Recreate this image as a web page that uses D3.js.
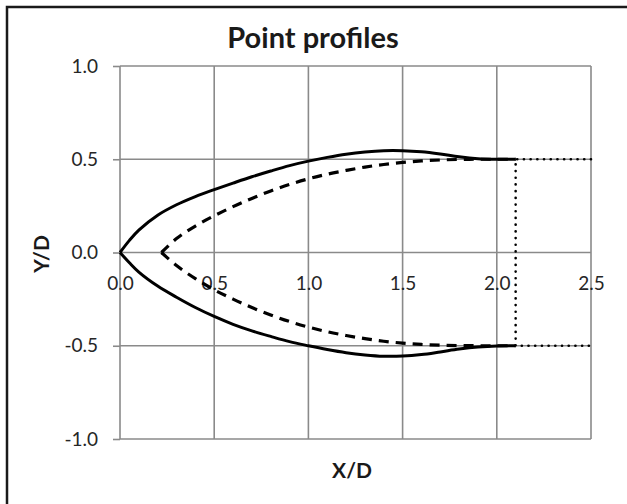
<!DOCTYPE html>
<html>
<head>
<meta charset="utf-8">
<script src="https://cdn.jsdelivr.net/npm/d3@7"></script>
<style>
  html, body { margin: 0; padding: 0; background: #fff; }
  svg { display: block; font-family: Lato, "Liberation Sans", sans-serif; }
</style>
</head>
<body>
<div id="chart"></div>
<script>
// profile data
const solidX      = [0, 0.05, 0.1, 0.2, 0.3, 0.4, 0.5, 0.6, 0.7, 0.8, 0.9, 1.0, 1.1, 1.2, 1.3, 1.4, 1.5, 1.6, 1.7, 1.8, 1.9, 2.0, 2.1];
const solidUpper  = [0, 0.065, 0.12, 0.2, 0.256, 0.3, 0.337, 0.372, 0.406, 0.437, 0.466, 0.49, 0.51, 0.527, 0.539, 0.546, 0.546, 0.54, 0.528, 0.513, 0.503, 0.5, 0.5];
const solidLower  = [0, -0.055, -0.105, -0.18, -0.24, -0.295, -0.343, -0.385, -0.42, -0.45, -0.478, -0.5, -0.52, -0.537, -0.549, -0.556, -0.555, -0.547, -0.533, -0.518, -0.507, -0.501, -0.5];
const dashX       = [0.22, 0.3, 0.4, 0.5, 0.6, 0.7, 0.8, 0.9, 1.0, 1.1, 1.2, 1.3, 1.4, 1.5, 1.6, 1.7, 1.8, 1.9, 2.0, 2.1];
const dashUpper   = [0, 0.075, 0.142, 0.197, 0.246, 0.29, 0.33, 0.365, 0.395, 0.42, 0.44, 0.458, 0.472, 0.483, 0.491, 0.496, 0.499, 0.5, 0.5, 0.5];
const dashLower   = [0, -0.07, -0.14, -0.2, -0.25, -0.295, -0.335, -0.37, -0.4, -0.425, -0.445, -0.462, -0.476, -0.486, -0.493, -0.497, -0.499, -0.5, -0.5, -0.5];
const dotX        = [2.5, 2.1, 2.1, 2.5];
const dotY        = [0.5, 0.5, -0.5, -0.5];
const xTicks = [0, 0.5, 1.0, 1.5, 2.0, 2.5];
const yTicks = [-1.0, -0.5, 0, 0.5, 1.0];

const width = 627, height = 504;
const margin = { left: 120, right: 36, top: 66, bottom: 65 };

const svg = d3.select('#chart').append('svg')
  .attr('width', width)
  .attr('height', height);

// outer chart frame (only left and top edges show)
svg.append('rect')
  .attr('x', 7).attr('y', 7)
  .attr('width', width + 20).attr('height', height + 20)
  .attr('fill', '#fff')
  .attr('stroke', '#1a1a1a')
  .attr('stroke-width', 2.5);

const x = d3.scaleLinear().domain([0, 2.5]).range([margin.left, width - margin.right]);
const y = d3.scaleLinear().domain([-1, 1]).range([height - margin.bottom, margin.top]);
const fmt = d => d.toFixed(1);   // plain hyphen for negatives, like the original

// gridlines
const grid = svg.append('g').attr('stroke', '#8a8a8a').attr('stroke-width', 1.6);
grid.selectAll('line.v').data(xTicks).enter().append('line')
  .attr('x1', d => x(d)).attr('x2', d => x(d))
  .attr('y1', y(1)).attr('y2', y(-1));
grid.selectAll('line.h').data(yTicks).enter().append('line')
  .attr('x1', x(0)).attr('x2', x(2.5))
  .attr('y1', d => y(d)).attr('y2', d => y(d));

// y axis ticks + labels
const yAxis = svg.append('g')
  .attr('transform', `translate(${x(0)},0)`)
  .call(d3.axisLeft(y).tickValues(yTicks).tickFormat(fmt).tickSize(7).tickPadding(15));
yAxis.select('.domain').remove();
yAxis.selectAll('line').attr('stroke', '#8a8a8a').attr('stroke-width', 1.6);
yAxis.selectAll('text').attr('font-size', 19).attr('fill', '#262626')
  .attr('font-family', 'Lato, sans-serif');

// x axis labels sit along y = 0
const xAxis = svg.append('g')
  .attr('transform', `translate(0,${y(0)})`)
  .call(d3.axisBottom(x).tickValues(xTicks).tickFormat(fmt).tickSize(0).tickPadding(24));
xAxis.select('.domain').remove();
xAxis.selectAll('text').attr('font-size', 19).attr('fill', '#262626')
  .attr('font-family', 'Lato, sans-serif');

const line = d3.line().x(d => x(d[0])).y(d => y(d[1])).curve(d3.curveCatmullRom.alpha(0.5));
const lineV = d3.line().x(d => x(d[0])).y(d => y(d[1]));
const plot = svg.append('g').attr('fill', 'none').attr('stroke', '#000');

// dotted closing lines
plot.append('path')
  .attr('d', lineV(d3.zip(dotX, dotY)))
  .attr('stroke-width', 2.6)
  .attr('stroke-linecap', 'round')
  .attr('stroke-dasharray', '0.1 6.6');

// dashed profile
[dashUpper, dashLower].forEach(ys => {
  plot.append('path')
    .attr('d', line(d3.zip(dashX, ys)))
    .attr('stroke-width', 3.2)
    .attr('stroke-dasharray', '10 7');
});

// solid profile
[solidUpper, solidLower].forEach(ys => {
  plot.append('path')
    .attr('d', line(d3.zip(solidX, ys)))
    .attr('stroke-width', 3);
});

// titles
svg.append('text')
  .attr('x', 313).attr('y', 48)
  .attr('text-anchor', 'middle')
  .attr('font-size', 29).attr('font-weight', 'bold').attr('fill', '#1a1a1a')
  .text('Point profiles');

svg.append('text')
  .attr('x', 352).attr('y', 478)
  .attr('text-anchor', 'middle')
  .attr('font-size', 21).attr('font-weight', 'bold').attr('fill', '#1a1a1a')
  .text('X/D');

svg.append('text')
  .attr('transform', 'translate(49,254) rotate(-90)')
  .attr('text-anchor', 'middle')
  .attr('font-size', 21).attr('font-weight', 'bold').attr('fill', '#1a1a1a')
  .text('Y/D');
</script>
</body>
</html>
